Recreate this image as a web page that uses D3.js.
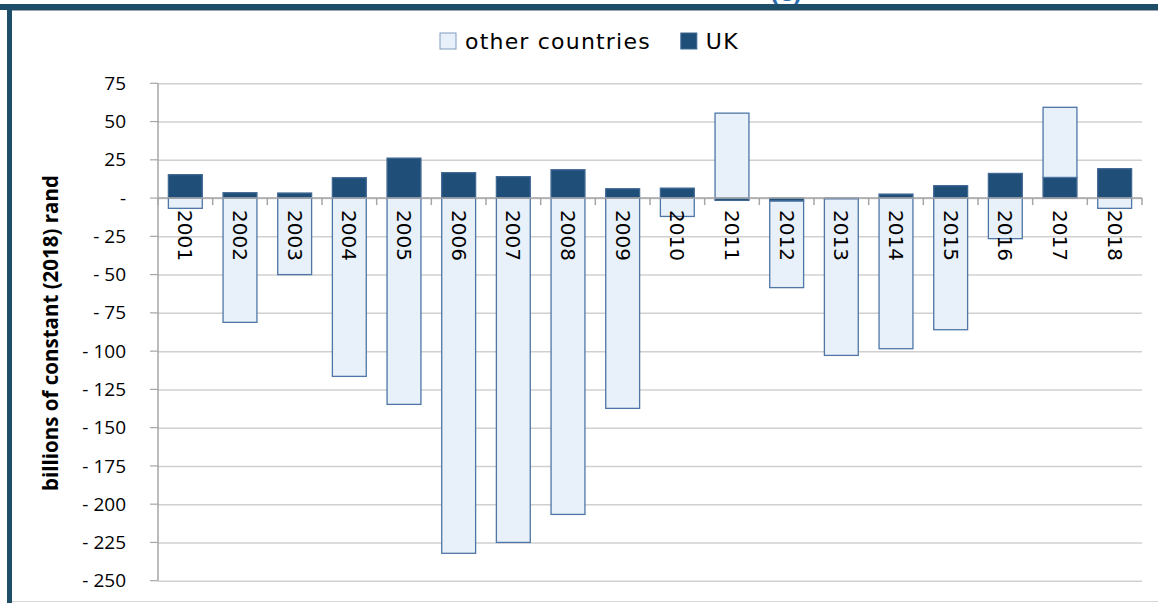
<!DOCTYPE html>
<html lang="en">
<head>
<meta charset="UTF-8">
<title>UK and other countries</title>
<script src="https://d3js.org/d3.v7.min.js"></script>
<style>
    body { margin: 0; background: #fff; }
    svg text { font-family: "DejaVu Sans", sans-serif; }
</style>
</head>
<body>
<div id="chart"></div>
<script>
    // data
    const years = ["2001", "2002", "2003", "2004", "2005", "2006", "2007", "2008", "2009",
        "2010", "2011", "2012", "2013", "2014", "2015", "2016", "2017", "2018"];
    const ukValues = [15.3, 3.5, 3.3, 13.3, 26.1, 16.6, 14, 18.5, 6.1,
        6.5, -1.5, -2, -0.5, 2.6, 8.1, 16.1, 13.5, 19.2];
    const otherValues = [-6.7, -81.2, -50, -116.5, -134.8, -232.1, -225, -206.7, -137.4,
        -12, 55.5, -56.5, -102.3, -98.4, -86, -26.5, 45.8, -6.7];
    const yTicks = [75, 50, 25, 0, -25, -50, -75, -100, -125, -150, -175, -200, -225, -250];
    const seriesNames = ["other countries", "UK"];

    const W = 1158, H = 603;
    const margin = { top: 83.3, right: 16, bottom: 22.3, left: 158 };
    const width = W - margin.left - margin.right,
        height = H - margin.top - margin.bottom;

    const darkBlue = "#1f4e79", lightFill = "#e8f0f9", lightStroke = "#4f76a6";

    const svg = d3.select("#chart").append("svg")
        .attr("width", W)
        .attr("height", H);

    // frame
    svg.append("rect").attr("x", 0).attr("y", 4).attr("width", W).attr("height", 6).attr("fill", "#1e4d68");
    svg.append("rect").attr("x", 7).attr("y", 4).attr("width", 5).attr("height", H).attr("fill", "#1e4d68");
    svg.append("line").attr("x1", 12).attr("x2", W).attr("y1", 10.5).attr("y2", 10.5)
        .attr("stroke", "#9aa5ad").attr("stroke-width", 1);
    svg.append("line").attr("x1", 12).attr("x2", W).attr("y1", 601.5).attr("y2", 601.5)
        .attr("stroke", "#d8d8d8").attr("stroke-width", 1);

    // cut-off title fragment at the very top
    svg.append("text")
        .attr("x", 786).attr("y", 1)
        .attr("text-anchor", "middle")
        .style("font-size", "22px").style("font-weight", "bold")
        .attr("fill", "#2e6fb0")
        .text("(c)");

    const g = svg.append("g").attr("transform", `translate(${margin.left},${margin.top})`);

    const x = d3.scaleBand().domain(years).range([0, width]).paddingInner(0.38).paddingOuter(0.19);
    const y = d3.scaleLinear().domain([-250, 75]).range([height, 0]);

    // gridlines + y tick labels
    g.append("g")
        .call(d3.axisLeft(y).tickValues(yTicks).tickSize(-width).tickSizeOuter(0)
            .tickFormat(v => v === 0 ? "-" : v < 0 ? "- " + Math.abs(v) : v))
        .call(a => a.select(".domain").remove())
        .call(a => a.selectAll(".tick line").attr("stroke", "#d0d0d0").attr("stroke-width", 1.5))
        .call(a => a.selectAll(".tick text").attr("x", -32).attr("fill", "#000")
            .style("font-size", "19px").style("font-family", "'Open Sans', sans-serif"));

    // y tick marks outside
    g.append("g").selectAll("line").data(yTicks).join("line")
        .attr("x1", -8).attr("x2", 0)
        .attr("y1", d => y(d)).attr("y2", d => y(d))
        .attr("stroke", "#a6a6a6").attr("stroke-width", 1.2);

    g.append("line").attr("x1", 0).attr("x2", 0).attr("y1", 0).attr("y2", height)
        .attr("stroke", "#a6a6a6").attr("stroke-width", 1.5);

    // stacked bars: UK nearest the axis, then other countries
    const stacked = years.map((yr, i) => {
        const segs = [];
        let pos = 0, neg = 0;
        [["UK", ukValues[i]], ["other countries", otherValues[i]]].forEach(([name, v]) => {
            if (v >= 0) { segs.push({ name, y0: pos, y1: pos + v }); pos += v; }
            else { segs.push({ name, y0: neg, y1: neg + v }); neg += v; }
        });
        return { year: yr, segs };
    });

    const bars = g.append("g").selectAll("g").data(stacked).join("g")
        .attr("transform", d => `translate(${x(d.year)},0)`);

    bars.selectAll("rect").data(d => d.segs).join("rect")
        .attr("x", 0)
        .attr("width", x.bandwidth())
        .attr("y", d => y(Math.max(d.y0, d.y1)))
        .attr("height", d => Math.abs(y(d.y0) - y(d.y1)))
        .attr("fill", d => d.name === "UK" ? darkBlue : lightFill)
        .attr("stroke", d => d.name === "UK" ? "#3f6892" : lightStroke)
        .attr("stroke-width", 1.3);

    // category axis at zero
    const step = x.step();
    g.append("line").attr("x1", 0).attr("x2", width).attr("y1", y(0)).attr("y2", y(0))
        .attr("stroke", "#a6a6a6").attr("stroke-width", 1.5);
    g.append("g").selectAll("line").data(d3.range(years.length + 1)).join("line")
        .attr("x1", i => i * step).attr("x2", i => i * step)
        .attr("y1", y(0)).attr("y2", y(0) + 7)
        .attr("stroke", "#a6a6a6").attr("stroke-width", 1.5);

    g.append("g").selectAll("text").data(years).join("text")
        .attr("transform", d => `translate(${x(d) + x.bandwidth() / 2},${y(0) + 12}) rotate(90)`)
        .attr("dy", "0.35em")
        .attr("text-anchor", "start")
        .style("font-size", "20px")
        .attr("fill", "#000")
        .text(d => d);

    // y axis title
    svg.append("text")
        .attr("transform", `translate(51,333) rotate(-90)`)
        .attr("text-anchor", "middle")
        .attr("dy", "0.35em")
        .style("font-family", "'Open Sans', sans-serif")
        .style("font-size", "20.5px").style("font-weight", "bold")
        .text("billions of constant (2018) rand");

    // legend
    const legend = svg.append("g").attr("transform", "translate(440,41)");
    const items = legend.selectAll("g").data(seriesNames).join("g");
    items.append("rect")
        .attr("width", 16).attr("height", 16).attr("y", -8)
        .attr("fill", d => d === "UK" ? darkBlue : lightFill)
        .attr("stroke", d => d === "UK" ? "#3f6892" : "#7f9cc0")
        .attr("stroke-width", 1);
    items.append("text")
        .attr("x", 25).attr("dy", "0.36em")
        .style("font-size", "22px")
        .style("letter-spacing", "1.2px")
        .text(d => d);
    let lx = 0;
    items.each(function () {
        d3.select(this).attr("transform", `translate(${lx},0)`);
        lx += this.getBBox().width + 30;
    });
</script>
</body>
</html>
